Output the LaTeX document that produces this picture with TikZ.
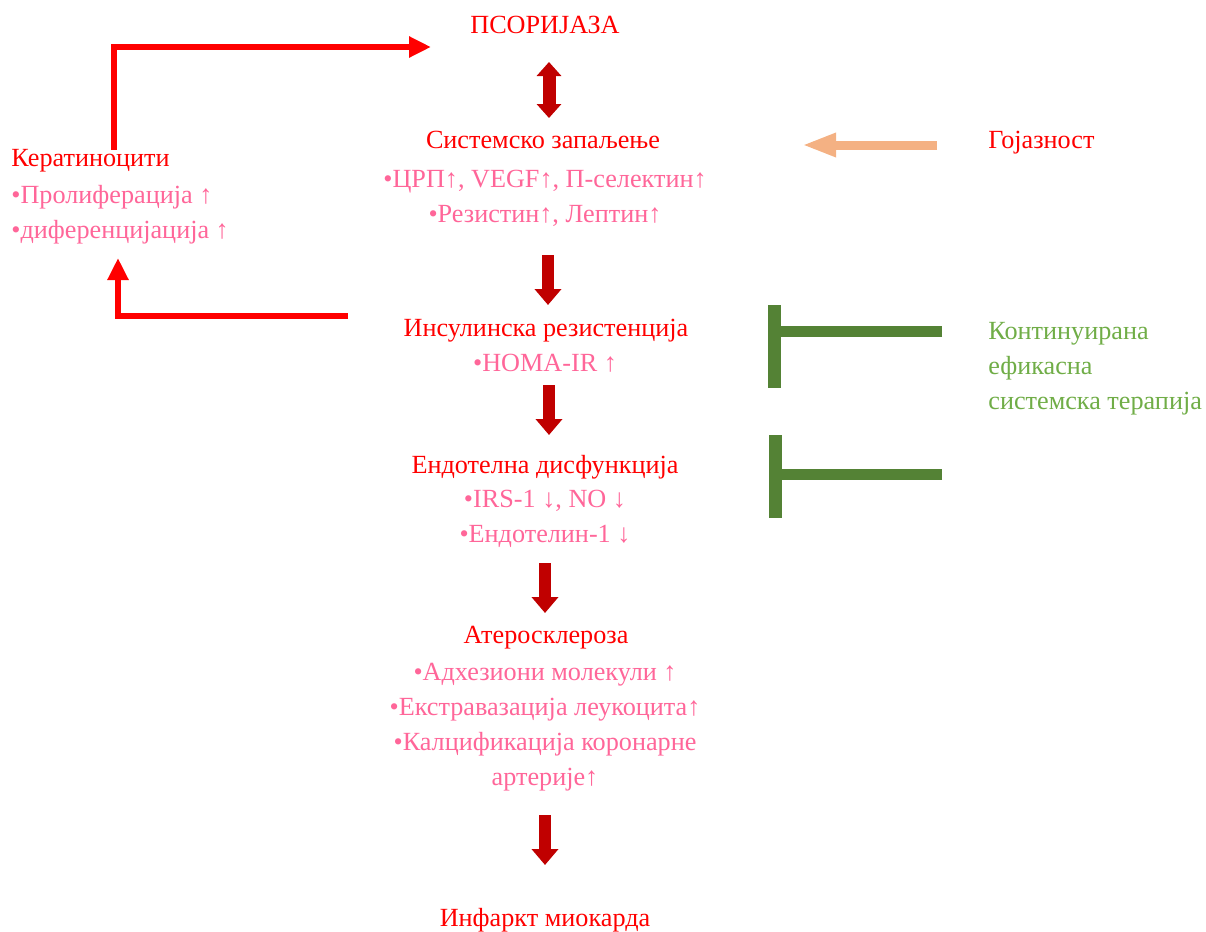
\documentclass[tikz,border=0pt]{standalone}
\usepackage{fontspec}
\setmainfont{Liberation Serif}
\usetikzlibrary{arrows.meta}
\definecolor{headRed}{HTML}{FF0000}
\definecolor{detailPink}{HTML}{FF6699}
\definecolor{arrowRed}{HTML}{C00000}
\definecolor{fatOrange}{HTML}{F4B183}
\definecolor{barGreen}{HTML}{548235}
\definecolor{therGreen}{HTML}{70AD47}

\begin{document}
\begin{tikzpicture}[x=0.5pt,y=-0.5pt]
 \newcommand{\txtSize}{\fontsize{13.1}{17.5}\selectfont}
	\tikzset{head/.style = {text=headRed,font=\txtSize,inner sep=0pt,anchor=base}}
	\tikzset{detail/.style = {text=detailPink,font=\txtSize,inner sep=0pt,anchor=base,align=center}}
	\tikzstyle{flow} = [-{Triangle[width=13pt,length=8pt]},line width=6pt,draw=arrowRed]
	\tikzstyle{twoway} = [{Triangle[width=12pt,length=7pt]}-{Triangle[width=12pt,length=7pt]},line width=6.5pt,draw=arrowRed]
	\tikzstyle{loopback} = [-{Triangle[width=10pt,length=11pt]},line width=3pt,draw=headRed]
	\tikzstyle{feed} = [-{Triangle[width=11pt,length=17pt]},line width=4.5pt,draw=fatOrange]
	\tikzstyle{inhib} = [line width=5.5pt,draw=barGreen]
	\tikzstyle{stopbar} = [line width=6.5pt,draw=barGreen]
	\useasboundingbox (0,0) rectangle (1206,932);
	%main chain (multi-line nodes sit on their last baseline)
	\node[head] (psor) at (545,33) {ПСОРИЈАЗА};
	\node[head] (sys) at (543,148) {Системско запаљење};
	\node[detail] (sysDet) at (545,222) {•ЦРП↑, VEGF↑, П-селектин↑\\•Резистин↑, Лептин↑};
	\node[head] (ins) at (546,336) {Инсулинска резистенција};
	\node[detail] (insDet) at (545,371) {•HOMA-IR ↑};
	\node[head] (endo) at (545,473) {Ендотелна дисфункција};
	\node[detail] (endoDet) at (545,542) {•IRS-1 ↓, NO ↓\\•Ендотелин-1 ↓};
	\node[head] (ath) at (546,643) {Атеросклероза};
	\node[detail] (athDet) at (545,785) {•Адхезиони молекули ↑\\•Екстравазација леукоцита↑\\•Калцификација коронарне\\артерије↑};
	\node[head] (inf) at (545,926) {Инфаркт миокарда};
	%side blocks
	\node[head,anchor=base west] (ker) at (11,166) {Кератиноцити};
	\node[detail,anchor=base west,align=left] (kerDet) at (11,238) {•Пролиферација ↑\\•диференцијација ↑};
	\node[head,anchor=base west] (goj) at (988,148) {Гојазност};
	\node[anchor=base west,align=left,text=therGreen,font=\txtSize,inner sep=0pt] (ther) at (988,409) {Континуирана\\ефикасна\\системска терапија};
	%arrow ends
	\coordinate (psorOut) at (549,62);
	\coordinate (sysIn) at (549,118);
	\coordinate (s1) at (548,255); \coordinate (s2) at (548,305);
	\coordinate (i1) at (549,385); \coordinate (i2) at (549,435);
	\coordinate (e1) at (545,563); \coordinate (e2) at (545,613);
	\coordinate (a1) at (545,815); \coordinate (a2) at (545,865);
	\coordinate (kerOut) at (114,150);
	\coordinate (psorIn) at (431,47);
	\coordinate (insOut) at (348,316);
	\coordinate (kerIn) at (118,258);
	\coordinate (gojOut) at (937,145);
	\coordinate (sysFat) at (802,145);
	\coordinate (therA) at (942,331); \coordinate (stopA) at (774,331);
	\coordinate (therB) at (942,474); \coordinate (stopB) at (775,474);
	%chain arrows
	\draw[twoway] (psorOut) to (sysIn);
	\draw[flow] (s1) to (s2);
	\draw[flow] (i1) to (i2);
	\draw[flow] (e1) to (e2);
	\draw[flow] (a1) to (a2);
	%feedback
	\draw[loopback] (kerOut) |- (psorIn);
	\draw[loopback] (insOut) -| (kerIn);
	\draw[feed] (gojOut) to (sysFat);
	%therapy
	\draw[inhib] (therA) to (stopA);
	\draw[stopbar] (stopA) ++(0,-26) -- ++(0,83);
	\draw[inhib] (therB) to (stopB);
	\draw[stopbar] (stopB) ++(0,-39) -- ++(0,83);
\end{tikzpicture}
\end{document}
